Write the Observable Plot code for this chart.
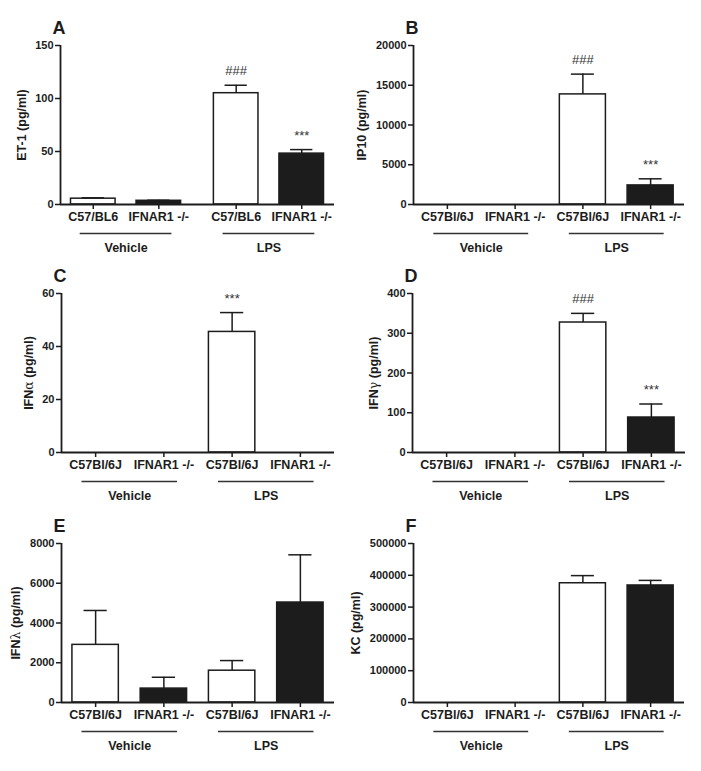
<!DOCTYPE html>
<html><head><meta charset="utf-8">
<script src="https://cdn.jsdelivr.net/npm/d3@7"></script>
<script src="https://cdn.jsdelivr.net/npm/@observablehq/plot@0.6"></script>
<style>
body{margin:0;background:#fff;}
#fig{position:relative;width:701px;height:771px;overflow:hidden;background:#fff;}
.panel{position:absolute;}
</style></head><body><div id="fig"></div>
<script>
// ---------- data ----------
const groups = ["Vehicle", "Vehicle", "LPS", "LPS"];
const genotypesA = ["C57/BL6", "IFNAR1 -/-", "C57/BL6", "IFNAR1 -/-"];
const genotypes = ["C57Bl/6J", "IFNAR1 -/-", "C57Bl/6J", "IFNAR1 -/-"];

const et1Mean = [5.5, 3.5, 105, 48];
const et1Err  = [0.8, 0.5, 7.5, 3.8];
const et1Notes = ["", "", "###", "***"];
const et1Ticks = [0, 50, 100, 150];

const ip10Mean = [0, 0, 13850, 2400];
const ip10Err  = [0, 0, 2550, 830];
const ip10Notes = ["", "", "###", "***"];
const ip10Ticks = [0, 5000, 10000, 15000, 20000];

const ifnaMean = [0, 0, 45.5, 0];
const ifnaErr  = [0, 0, 7.3, 0];
const ifnaNotes = ["", "", "***", ""];
const ifnaTicks = [0, 20, 40, 60];

const ifngMean = [0, 0, 327, 88];
const ifngErr  = [0, 0, 23, 34];
const ifngNotes = ["", "", "###", "***"];
const ifngTicks = [0, 100, 200, 300, 400];

const ifnlMean = [2900, 700, 1600, 5030];
const ifnlErr  = [1730, 570, 510, 2400];
const ifnlNotes = ["", "", "", ""];
const ifnlTicks = [0, 2000, 4000, 6000, 8000];

const kcMean = [0, 0, 375000, 368000];
const kcErr  = [0, 0, 24000, 16000];
const kcNotes = ["", "", "", ""];
const kcTicks = [0, 100000, 200000, 300000, 400000, 500000];

// ---------- layout ----------
const FONT = '"Liberation Sans", Arial, Helvetica, sans-serif';
const INK = "#1c1c1c";
const panels = [
  {id: "A", title: "ET-1 (pg/ml)", greek: null, mean: et1Mean, err: et1Err, notes: et1Notes, ticks: et1Ticks, labels: genotypesA,
   left: 0, top: 0, width: 350, height: 258, mt: 45, ml: 60, mr: 16, gap: 0.18},
  {id: "B", title: "IP10 (pg/ml)", greek: null, mean: ip10Mean, err: ip10Err, notes: ip10Notes, ticks: ip10Ticks, labels: genotypes,
   left: 350, top: 0, width: 351, height: 258, mt: 45, ml: 63, mr: 17, gap: 0},
  {id: "C", title: "IFNα (pg/ml)", greek: "α", mean: ifnaMean, err: ifnaErr, notes: ifnaNotes, ticks: ifnaTicks, labels: genotypes,
   left: 0, top: 258, width: 350, height: 250, mt: 35, ml: 61, mr: 16, gap: 0},
  {id: "D", title: "IFNγ (pg/ml)", greek: "γ", mean: ifngMean, err: ifngErr, notes: ifngNotes, ticks: ifngTicks, labels: genotypes,
   left: 350, top: 258, width: 351, height: 250, mt: 35, ml: 62, mr: 16, gap: 0},
  {id: "E", title: "IFNλ (pg/ml)", greek: "λ", mean: ifnlMean, err: ifnlErr, notes: ifnlNotes, ticks: ifnlTicks, labels: genotypes,
   left: 0, top: 508, width: 350, height: 263, mt: 35, ml: 61, mr: 16, gap: 0},
  {id: "F", title: "KC (pg/ml)", greek: null, mean: kcMean, err: kcErr, notes: kcNotes, ticks: kcTicks, labels: genotypes,
   left: 350, top: 508, width: 351, height: 263, mt: 35, ml: 63, mr: 17, gap: 0}
];
const PLOT_H = 159;
const HALF_W = 0.34, CAP = 0.17, LINE_EXT = 0.2;
const SVGNS = "http://www.w3.org/2000/svg";

const fig = document.getElementById("fig");

for (const p of panels) {
  const data = p.mean.map((m, i) => ({
    group: groups[i], geno: p.labels[i], mean: m, err: p.err[i], note: p.notes[i],
    pos: (i % 2) + (i >= 2 ? 2 + p.gap : 0)
  }));
  const labelAt = new Map(data.map(d => [d.pos, d.geno]));
  const grp = ["Vehicle", "LPS"].map(g => {
    const ps = data.filter(d => d.group === g).map(d => d.pos);
    return {g, x1: d3.min(ps) - LINE_EXT, x2: d3.max(ps) + LINE_EXT, mid: d3.mean(ps)};
  });
  const ymax = d3.max(p.ticks);
  const tickW = String(ymax).length * 0.556 * 11;
  const withErr = data.filter(d => d.err > 0);
  const fillOf = d => d.geno.startsWith("IFNAR1") ? INK : "white";

  const svg = Plot.plot({
    width: p.width, height: p.height,
    marginLeft: p.ml, marginRight: p.mr, marginTop: p.mt,
    marginBottom: p.height - p.mt - PLOT_H,
    style: {fontFamily: FONT, background: "transparent", overflow: "visible", color: INK},
    x: {type: "linear", domain: [-0.5, 3.5 + p.gap]},
    y: {domain: [0, ymax]},
    marks: [
      Plot.rect(data, {x1: d => d.pos - HALF_W, x2: d => d.pos + HALF_W, y1: () => 0, y2: "mean",
        fill: fillOf, stroke: INK, strokeWidth: 1.5}),
      Plot.ruleX(withErr, {x: "pos", y1: "mean", y2: d => d.mean + d.err, stroke: INK, strokeWidth: 1.5}),
      Plot.ruleY(withErr, {y: d => d.mean + d.err, x1: d => d.pos - CAP, x2: d => d.pos + CAP, stroke: INK, strokeWidth: 1.5}),
      Plot.text(data.filter(d => d.note), {x: "pos", y: d => d.mean + d.err, text: "note", dy: -10,
        lineAnchor: "bottom", fontSize: 13, fill: "#333", ariaLabel: "notes"}),
      Plot.ruleY([0], {stroke: INK, strokeWidth: 1.8}),
      Plot.ruleX([-0.5], {stroke: INK, strokeWidth: 1.8}),
      Plot.axisY({ticks: p.ticks, tickFormat: d3.format("d"), tickSize: 5, tickPadding: 2,
        fontSize: 11, fontWeight: "bold", strokeWidth: 1.5,
        label: p.title, labelArrow: "none", labelAnchor: "center", labelOffset: 7 + tickW + 6 + 12.5}),
      Plot.axisX({ticks: data.map(d => d.pos), tickFormat: v => labelAt.get(v), tickSize: 5, tickPadding: 3,
        fontSize: 12.5, fontWeight: "bold", strokeWidth: 1.5, label: null}),
      Plot.ruleY(grp, {x1: "x1", x2: "x2", y: () => 0, dy: 29, stroke: "#333", strokeWidth: 1.4}),
      Plot.text(grp, {x: "mid", y: () => 0, text: "g", dy: 43, fontSize: 12.5, fontWeight: "bold"}),
      Plot.text([p.id], {frameAnchor: "top-left", text: d => d, dx: -8, dy: -12, lineAnchor: "bottom",
        textAnchor: "start", fontSize: 18, fontWeight: "bold"})
    ]
  });

  // y-axis title: plain text (no arrow), Greek letter in normal weight
  const lab = svg.querySelector('g[aria-label="y-axis label"] text');
  if (lab) {
    lab.setAttribute("font-size", 12.5);
    lab.textContent = "";
    if (p.greek) {
      const [a, b] = p.title.split(p.greek);
      const t1 = document.createElementNS(SVGNS, "tspan"); t1.textContent = a;
      const t2 = document.createElementNS(SVGNS, "tspan"); t2.textContent = p.greek;
      t2.setAttribute("font-weight", "normal"); t2.setAttribute("font-family", '"DejaVu Serif", serif');
      const t3 = document.createElementNS(SVGNS, "tspan"); t3.textContent = b;
      lab.append(t1, t2, t3);
    } else {
      lab.textContent = p.title;
    }
  }
  const notes = svg.querySelector('g[aria-label="notes"]');
  if (notes) notes.setAttribute("letter-spacing", "1");

  const div = document.createElement("div");
  div.className = "panel";
  div.style.left = p.left + "px";
  div.style.top = p.top + "px";
  div.appendChild(svg);
  fig.appendChild(div);
}
</script>
</body></html>
